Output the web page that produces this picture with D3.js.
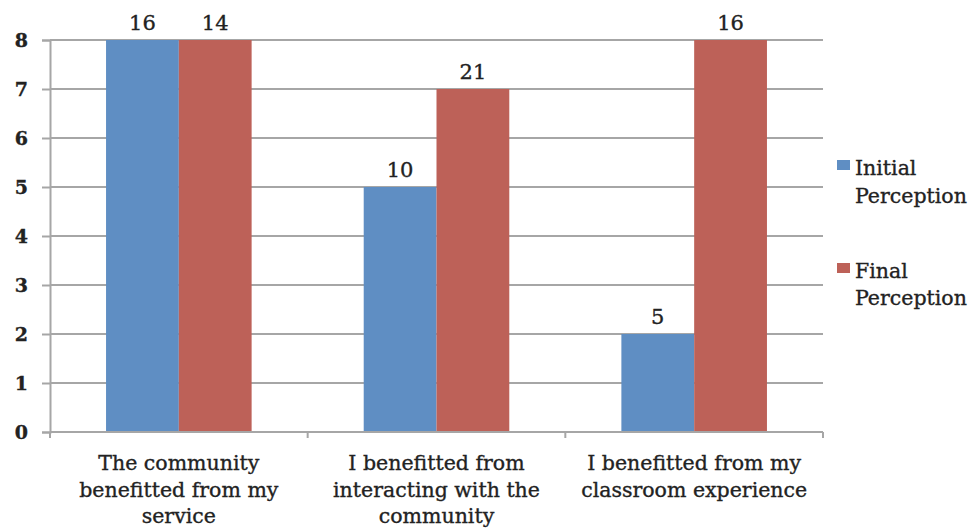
<!DOCTYPE html>
<html>
<head>
<meta charset="utf-8">
<script src="https://cdn.jsdelivr.net/npm/d3@7"></script>
<style>
  html, body { margin: 0; padding: 0; background: #fff; }
  svg { display: block; }
  text { font-family: "DejaVu Serif", "Liberation Serif", serif; fill: #222; stroke: #222; stroke-width: 0.35px; }
</style>
</head>
<body>
<svg id="chart" width="974" height="531"></svg>
<script>
// Survey statements on the x axis
const categories = [
  ["The community", "benefitted from my", "service"],
  ["I benefitted from", "interacting with the", "community"],
  ["I benefitted from my", "classroom experience"]
];
const seriesNames = ["Initial Perception", "Final Perception"];
// Bar heights on the 0–8 axis
const initialValues = [8, 5, 2];
const finalValues = [8, 7, 8];
// Counts printed above each bar
const initialCounts = [16, 10, 5];
const finalCounts = [14, 21, 16];
const yTicks = [0, 1, 2, 3, 4, 5, 6, 7, 8];
const colors = ["#5f8ec3", "#bd6158"];

const svg = d3.select("#chart");
const margin = { left: 50, right: 151, top: 40, bottom: 99 };
const width = 974 - margin.left - margin.right;
const height = 531 - margin.top - margin.bottom;
const g = svg.append("g").attr("transform", `translate(${margin.left},${margin.top})`);

const x0 = d3.scaleBand().domain(d3.range(categories.length)).range([0, width]).paddingInner(0).paddingOuter(0);
const x1 = d3.scaleBand().domain([0, 1]).range([0, x0.bandwidth()]).paddingInner(0).paddingOuter(0.77);
const y = d3.scaleLinear().domain([0, 8]).range([height, 0]);

// Horizontal gridlines
g.append("g")
  .selectAll("line")
  .data(yTicks.filter(t => t > 0))
  .join("line")
  .attr("x1", 0).attr("x2", width)
  .attr("y1", d => y(d)).attr("y2", d => y(d))
  .attr("stroke", "#a6a6a6").attr("stroke-width", 2);

// Y axis
const yAxis = g.append("g")
  .call(d3.axisLeft(y).tickValues(yTicks).tickSize(8).tickPadding(14).tickFormat(d3.format("d")));
yAxis.select(".domain").attr("stroke", "#a6a6a6").attr("stroke-width", 2);
yAxis.selectAll(".tick line").attr("stroke", "#a6a6a6").attr("stroke-width", 2);
yAxis.selectAll(".tick text").attr("font-size", 19).attr("font-weight", "bold")
  .style("font-family", "'DejaVu Serif', serif").attr("fill", "#333").attr("stroke", "none");

// Bars
const series = [initialValues, finalValues];
const counts = [initialCounts, finalCounts];
const groups = g.append("g").selectAll("g")
  .data(categories.map((c, i) => i))
  .join("g")
  .attr("transform", i => `translate(${x0(i)},0)`);

groups.selectAll("rect")
  .data(i => series.map((s, k) => ({ k, v: s[i] })))
  .join("rect")
  .attr("x", d => x1(d.k))
  .attr("width", x1.bandwidth())
  .attr("y", d => y(d.v))
  .attr("height", d => y(0) - y(d.v))
  .attr("fill", d => colors[d.k]);

groups.selectAll("text.count")
  .data(i => series.map((s, k) => ({ k, v: s[i], n: counts[k][i] })))
  .join("text")
  .attr("class", "count")
  .attr("x", d => x1(d.k) + x1.bandwidth() / 2)
  .attr("y", d => y(d.v) - 10)
  .attr("text-anchor", "middle")
  .attr("font-size", 21)
  .text(d => d.n);

// X axis line with group separators
const xAxis = g.append("g").attr("transform", `translate(0,${height})`);
xAxis.append("line").attr("x1", 0).attr("x2", width).attr("stroke", "#a6a6a6").attr("stroke-width", 2);
xAxis.selectAll("line.sep")
  .data(d3.range(categories.length + 1))
  .join("line")
  .attr("class", "sep")
  .attr("x1", i => i * x0.bandwidth()).attr("x2", i => i * x0.bandwidth())
  .attr("y1", 0).attr("y2", 6)
  .attr("stroke", "#a6a6a6").attr("stroke-width", 2);

xAxis.selectAll("text.cat")
  .data(categories.map((c, i) => i))
  .join("text")
  .attr("class", "cat")
  .attr("text-anchor", "middle")
  .attr("font-size", 20.5)
  .attr("x", i => x0(i) + x0.bandwidth() / 2)
  .selectAll("tspan")
  .data(i => categories[i].map((line, j) => ({ line, j })))
  .join("tspan")
  .attr("x", function () { return d3.select(this.parentNode).attr("x"); })
  .attr("y", d => 38 + d.j * 26.5)
  .text(d => d.line);

// Legend
const legend = svg.append("g").attr("transform", "translate(837,0)");
const legendRows = [[175, 203], [278, 305]];
seriesNames.forEach((name, k) => {
  const words = name.split(" ");
  legend.append("rect")
    .attr("x", 0).attr("y", legendRows[k][0] - 15)
    .attr("width", 13).attr("height", 10)
    .attr("fill", colors[k]);
  words.forEach((w, j) => {
    legend.append("text")
      .attr("x", 18).attr("y", legendRows[k][j])
      .attr("font-size", 20.5)
      .text(w);
  });
});
</script>
</body>
</html>
